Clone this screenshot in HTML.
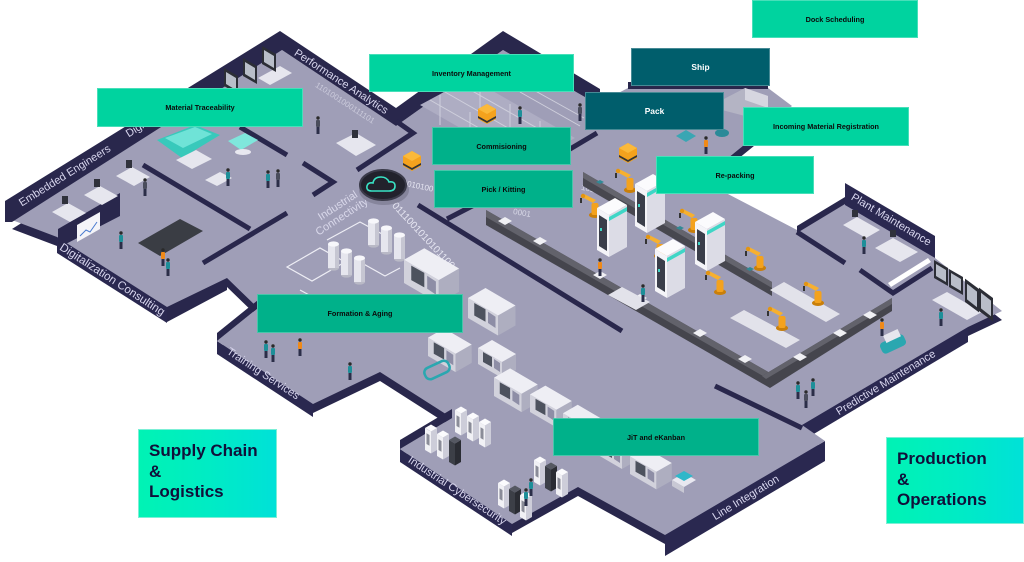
<!DOCTYPE html>
<html><head><meta charset="utf-8">
<style>
html,body{margin:0;padding:0;background:#fff;}
#wrap{position:relative;width:1024px;height:562px;overflow:hidden;background:#fff;}
svg{position:absolute;left:0;top:0;}
.b{position:absolute;display:flex;align-items:center;justify-content:center;font-family:"Liberation Sans",Arial,sans-serif;font-weight:bold;color:#0b0b0b;font-size:7.25px;box-shadow:inset 0 0 0 1px rgba(255,255,255,0.28);white-space:nowrap;}
.br{background:#00d39f;}
.md{background:#00b18a;}
.dk{background:#005e6c;color:#fff;font-size:8.4px;}
.big{position:absolute;box-sizing:border-box;background:linear-gradient(90deg,#00f3b4 0%,#00ecc4 50%,#00e1d8 100%);box-shadow:inset 0 0 0 1px #7cefd6;font-family:"Liberation Sans",Arial,sans-serif;font-weight:bold;font-size:17px;color:#10103a;padding:12px 0 0 11px;line-height:20.5px;}
</style></head>
<body><div id="wrap">
<svg width="1024" height="562" viewBox="0 0 1024 562" xmlns="http://www.w3.org/2000/svg">
<defs>
 <g id="mach">
  <polygon points="0,0 24,14 24,-2 0,-16" fill="#d2d2dc"/>
  <polygon points="24,14 38,6 38,-10 24,-2" fill="#aeaec0"/>
  <polygon points="0,-16 24,-2 38,-10 14,-24" fill="#eeeef4"/>
  <polygon points="5,-2 14,3 14,-7 5,-12" fill="#4d525e"/>
  <polygon points="16,4 22,8 22,-1 16,-5" fill="#8e8ea6"/>
 </g>
 <g id="tank">
  <ellipse cx="5.5" cy="0" rx="5.5" ry="2.6" fill="#b9b9c6"/>
  <rect x="0" y="-24" width="11" height="24" fill="#e6e6ee"/>
  <rect x="7" y="-24" width="4" height="24" fill="#c6c6d2"/>
  <ellipse cx="5.5" cy="-24" rx="5.5" ry="2.6" fill="#f7f7fb"/>
 </g>
 <g id="rack">
  <polygon points="0,0 6,3.5 6,-18.5 0,-22" fill="#f1f1f5"/>
  <polygon points="6,3.5 12,0 12,-22 6,-18.5" fill="#cdcdd9"/>
  <polygon points="0,-22 6,-18.5 12,-22 6,-25.5" fill="#fbfbfd"/>
  <polygon points="1.5,-6 4.5,-4.3 4.5,-15 1.5,-16.7" fill="#8a8c98"/>
 </g>
 <g id="rackd">
  <polygon points="0,0 6,3.5 6,-18.5 0,-22" fill="#3c3f47"/>
  <polygon points="6,3.5 12,0 12,-22 6,-18.5" fill="#2a2c33"/>
  <polygon points="0,-22 6,-18.5 12,-22 6,-25.5" fill="#555862"/>
 </g>
 <g id="cab">
  <polygon points="0,0 12,7 12,-35 0,-42" fill="#f4f4f8"/>
  <polygon points="2,-4 10,1 10,-30 2,-35" fill="#3a3e4a"/>
  <polygon points="12,7 30,-3 30,-45 12,-35" fill="#dcdce6"/>
  <polygon points="0,-42 12,-35 30,-45 18,-52" fill="#fbfbfd"/>
  <polygon points="12,-33 30,-43 30,-39 12,-29" fill="#3fd6c6"/>
  <rect x="3" y="-22" width="2" height="3" fill="#3fd6c6"/>
 </g>
 <g id="robot">
  <ellipse cx="0" cy="0" rx="6" ry="3" fill="#c97f0a"/>
  <rect x="-3.5" y="-12" width="7" height="12" rx="2" fill="#f4a21d"/>
  <polygon points="-2,-12 -13,-18 -11,-21 1,-15" fill="#f7b02f"/>
  <circle cx="-12" cy="-19" r="2.2" fill="#e39512"/>
  <rect x="-15" y="-17" width="2" height="5" fill="#333"/>
 </g>
 <g id="agv">
  <polygon points="0,0 9,5 18,0 18,-10 9,-15 0,-10" fill="#f4a21d"/>
  <polygon points="0,-10 9,-5 18,-10 9,-15" fill="#fbb93a"/>
  <polygon points="0,-3 9,2 18,-3 18,-1 9,4 0,-1" fill="#333"/>
 </g>
 <g id="pt">
  <rect x="-1.5" y="-3" width="3" height="7" fill="#2b2e48"/>
  <rect x="-2" y="-10" width="4" height="7" rx="1" fill="#1e8f99"/>
  <circle cx="0" cy="-12" r="1.7" fill="#2a2a2a"/>
 </g>
 <g id="po">
  <rect x="-1.5" y="-3" width="3" height="7" fill="#2b2e48"/>
  <rect x="-2" y="-10" width="4" height="7" rx="1" fill="#f08a18"/>
  <circle cx="0" cy="-12" r="1.7" fill="#2a2a2a"/>
 </g>
 <g id="pd">
  <rect x="-1.5" y="-3" width="3" height="7" fill="#2b2e48"/>
  <rect x="-2" y="-10" width="4" height="7" rx="1" fill="#4a4d5c"/>
  <circle cx="0" cy="-12" r="1.7" fill="#2a2a2a"/>
 </g>
 <g id="mon">
  <polygon points="0,0 14,8 14,-10 0,-18" fill="#2c2e36"/>
  <polygon points="2,-2 12,4 12,-8 2,-14" fill="#b9bec9"/>
 </g>
</defs>

<!-- floor band (side faces) -->
<polygon points="12,229 282,59 396,135 503,59 597,113 628,97 768,97 792,115 701,189 797,239 845,212 935,267 1002,320 968,336 802,434 825,450 665,544 578,496 512,533 400,458 452,427 380,381 313,413 217,350 258,317 227,287 167,316 57,246" fill="#29274c"/>
<!-- front label walls -->
<polygon points="57,237 167,307 167,323 57,253" fill="#2a2850"/>
<polygon points="167,307 227,278 227,290 167,322" fill="#29274c"/>
<polygon points="217,341 313,404 313,417 217,354" fill="#2a2850"/>
<polygon points="400,449 512,524 512,536 400,462" fill="#2a2850"/>
<polygon points="665,535 825,441 825,461 665,556" fill="#2a2850"/>
<polygon points="802,425 968,327 968,342 802,441" fill="#2a2850"/>
<!-- floor -->
<polygon points="12,220 282,50 396,126 503,50 597,104 628,88 768,88 792,106 701,180 797,230 845,203 935,258 1002,311 968,327 802,425 825,441 665,535 578,487 512,524 400,449 452,418 380,372 313,404 217,341 258,308 227,278 167,307 57,237" fill="#9f9eb7"/>

<!-- back walls -->
<polygon points="5,201 280,31 396,108 503,31 600,89 600,104 597,104 503,50 396,126 282,50 12,222 5,222" fill="#29274c"/>
<polygon points="217,333 258,300 258,308 217,341" fill="#29274c"/>
<polygon points="400,440 452,409 452,418 400,449" fill="#29274c"/>
<polygon points="845,183 935,236 935,258 845,205" fill="#2a2850"/>
<polygon points="797,226 845,197 845,204 797,233" fill="#29274c"/>
<polygon points="628,82 768,82 768,89 628,89" fill="#29274c"/>

<!-- storage rack area -->
<polygon points="420,105 470,78 575,138 525,165" fill="#aeadc3"/>
<g stroke="#cfcfdc" stroke-width="1" fill="none">
 <path d="M430,100 L535,160 M445,92 L550,152 M460,84 L565,144 M440,95 V125 M470,112 V140 M500,129 V157 M480,87 V110 M510,104 V130 M540,121 V146 M520,92 L580,126 M530,88 L584,118"/>
</g>

<!-- interior walls -->
<g stroke="#29274c" stroke-width="5" fill="none" stroke-linecap="butt">
 <path d="M143,165 L250,229"/>
 <path d="M287,213 L203,263"/>
 <path d="M240,127 L287,155"/>
 <path d="M303,163 L333,182 L313,195"/>
 <path d="M396,121 L413,133 L357,170"/>
 <path d="M418,205 L622,331"/>
 <path d="M447,219 L478,203"/>
 <path d="M565,152 L597,133"/>
 <path d="M715,386 L802,428"/>
 <path d="M797,232 L845,263"/>
 <path d="M860,270 L893,293 L932,268"/>
</g>
<polygon points="888,283 928,258 931,262 891,287" fill="#fff"/>
<!-- partition with whiteboard -->
<polygon points="58,229 120,193 120,216 58,248" fill="#29274c"/>
<polygon points="77,225 100,212 100,229 77,242" fill="#f4f4f8"/>
<path d="M80,236 L86,230 L90,232 L97,222" stroke="#4a7bd0" stroke-width="1" fill="none"/>

<!-- floor markings -->
<g stroke="#eeeef5" stroke-width="1.2" fill="none">
 <path d="M287,267 L320,248 L345,262 L312,281 Z"/>
 <path d="M327,240 L360,222 L384,235"/>
 <path d="M360,262 L385,276 L400,268"/>
 <path d="M300,290 L322,302"/>
</g>

<!-- binary / floor text -->
<g font-family="Liberation Sans, Arial, sans-serif" fill="#e6e6f2">
 <text x="0" y="0" font-size="10" transform="translate(423,236) rotate(47)" text-anchor="middle" dominant-baseline="central">0111001010101100</text>
 <text x="0" y="0" font-size="8" transform="translate(418,186) rotate(12)" text-anchor="middle" dominant-baseline="central">0010100</text>
 <text x="0" y="0" font-size="8" opacity="0.6" transform="translate(345,103) rotate(33)" text-anchor="middle" dominant-baseline="central">1101001000111101</text>
 <text x="0" y="0" font-size="8" opacity="0.8" transform="translate(590,189) rotate(12)" text-anchor="middle" dominant-baseline="central">1010</text>
 <text x="0" y="0" font-size="8" opacity="0.8" transform="translate(522,213) rotate(10)" text-anchor="middle" dominant-baseline="central">0001</text>
 <text x="0" y="0" font-size="11" fill="#d9d8ea" transform="translate(338,206) rotate(-33)" text-anchor="middle" dominant-baseline="central">Industrial</text>
 <text x="0" y="0" font-size="11" fill="#d9d8ea" transform="translate(342,217) rotate(-33)" text-anchor="middle" dominant-baseline="central">Connectivity</text>
</g>

<!-- cloud hub -->
<ellipse cx="384" cy="190" rx="25" ry="15" fill="#86859c"/>
<ellipse cx="383" cy="185" rx="23" ry="15" fill="#22222c" stroke="#3b3b4a" stroke-width="2"/>
<path d="M372,191 q-6,0 -5,-5 q1,-4 6,-3 q1,-6 8,-6 q6,0 8,5 q6,-1 6,4 q0,5 -6,5 Z" stroke="#39e3c5" stroke-width="1.6" fill="none"/>

<!-- material traceability models -->
<polygon points="157,140 195,125 220,135 182,158" fill="#38c9bb"/>
<polygon points="165,138 195,127 212,134 183,148" fill="#6fe3d7"/>
<polygon points="228,141 245,133 258,140 241,150" fill="#7fe6dc"/>
<ellipse cx="243" cy="152" rx="8" ry="3" fill="#e8e8f0"/>

<!-- desks -->
<g fill="#e6e6ee">
 <polygon points="52,212 68,203 86,213 70,222"/>
 <polygon points="84,195 100,186 118,196 102,205"/>
 <polygon points="116,176 132,167 150,177 134,186"/>
 <polygon points="336,143 356,133 376,145 356,156"/>
 <polygon points="176,160 196,150 212,159 192,169"/>
 <polygon points="205,180 220,172 232,178 217,186"/>
 <polygon points="843,225 857,217 880,230 866,238"/>
 <polygon points="875,248 893,238 918,252 900,262"/>
 <polygon points="932,300 947,292 982,312 967,320"/>
 <polygon points="258,78 280,66 292,73 270,85"/>
</g>
<g fill="#2f313b">
 <rect x="62" y="196" width="6" height="8"/>
 <rect x="94" y="179" width="6" height="8"/>
 <rect x="126" y="160" width="6" height="8"/>
 <rect x="352" y="130" width="6" height="8"/>
 <rect x="852" y="210" width="6" height="7"/>
 <rect x="890" y="230" width="6" height="7"/>
</g>
<!-- monitors -->
<use href="#mon" transform="translate(224,86)"/>
<use href="#mon" transform="translate(243,76)"/>
<use href="#mon" transform="translate(262,64)"/>
<use href="#mon" transform="translate(934,278)"/>
<use href="#mon" transform="translate(949,287)"/>
<use href="#mon" transform="translate(965,302) scale(1,1.3)"/>
<use href="#mon" transform="translate(979,311) scale(1,1.3)"/>

<!-- meeting table -->
<polygon points="138,243 180,219 203,231 160,256" fill="#3a3d44"/>

<!-- conveyors -->
<polygon points="583,172 772,282 772,296 583,186" fill="#47474f"/>
<polygon points="583,172 772,282 772,288 583,178" fill="#64646d"/>
<polygon points="486,210 770,373 770,388 486,225" fill="#45454d"/>
<polygon points="486,210 770,373 770,380 486,217" fill="#62626b"/>
<polygon points="762,376 892,298 892,311 770,388" fill="#45454d"/>
<polygon points="762,376 892,298 892,304 766,379" fill="#62626b"/>
<g fill="#f0f0f4">
 <polygon points="498,221 505,217 512,221 505,225"/>
 <polygon points="533,241 540,237 547,241 540,245"/>
 <polygon points="593,275 600,271 607,275 600,279"/>
 <polygon points="633,298 640,294 647,298 640,302"/>
 <polygon points="693,333 700,329 707,333 700,337"/>
 <polygon points="738,359 745,355 752,359 745,363"/>
 <polygon points="793,357 800,353 807,357 800,361"/>
 <polygon points="833,333 840,329 847,333 840,337"/>
 <polygon points="863,315 870,311 877,315 870,319"/>
</g>
<g fill="#2f8a96">
 <polygon points="596,182 600,180 604,182 600,184"/>
 <polygon points="636,205 640,203 644,205 640,207"/>
 <polygon points="676,228 680,226 684,228 680,230"/>
 <polygon points="716,251 720,249 724,251 720,253"/>
 <polygon points="746,269 750,267 754,269 750,271"/>
</g>
<!-- white tables -->
<g fill="#e2e2ea">
 <polygon points="608,295 622,287 650,302 636,310"/>
 <polygon points="730,318 744,310 800,340 786,348"/>
 <polygon points="770,290 784,282 840,314 826,322"/>
</g>

<!-- tanks -->
<use href="#tank" transform="translate(368,245)"/>
<use href="#tank" transform="translate(381,252)"/>
<use href="#tank" transform="translate(394,259)"/>
<use href="#tank" transform="translate(328,268)"/>
<use href="#tank" transform="translate(341,275)"/>
<use href="#tank" transform="translate(354,282)"/>

<!-- machines line -->
<use href="#mach" transform="translate(404,283) scale(1.45)"/>
<use href="#mach" transform="translate(468,318) scale(1.25)"/>
<use href="#mach" transform="translate(428,356) scale(1.15)"/>
<use href="#mach" transform="translate(478,364)"/>
<use href="#mach" transform="translate(494,396) scale(1.15)"/>
<use href="#mach" transform="translate(530,412) scale(1.1)"/>
<use href="#mach" transform="translate(563,430) scale(1.05)"/>
<use href="#mach" transform="translate(598,455)"/>
<use href="#mach" transform="translate(630,474) scale(1.1)"/>
<polygon points="672,480 684,473 696,480 684,487" fill="#e8e8f0"/>
<polygon points="672,480 684,487 684,493 672,486" fill="#c8c8d4"/>
<polygon points="675,476 684,471 693,476 684,481" fill="#2fb7c9"/>
<!-- AGV teal -->
<rect x="424" y="364" width="26" height="12" rx="5" fill="none" stroke="#2aa7b0" stroke-width="2.5" transform="rotate(-25 437 370)"/>
<rect x="880" y="338" width="26" height="12" rx="4" fill="#2aa7b0" transform="rotate(-25 893 344)"/>
<rect x="884" y="332" width="16" height="8" fill="#e6e6ee" transform="rotate(-25 892 336)"/>

<!-- racks -->
<use href="#rack" transform="translate(455,432)"/>
<use href="#rack" transform="translate(467,438)"/>
<use href="#rack" transform="translate(479,444)"/>
<use href="#rack" transform="translate(425,450)"/>
<use href="#rack" transform="translate(437,456)"/>
<use href="#rackd" transform="translate(449,462)"/>
<use href="#rack" transform="translate(534,482)"/>
<use href="#rackd" transform="translate(545,488)"/>
<use href="#rack" transform="translate(556,494)"/>
<use href="#rack" transform="translate(498,505)"/>
<use href="#rackd" transform="translate(509,511)"/>
<use href="#rack" transform="translate(520,517)"/>

<!-- robot cells -->
<use href="#robot" transform="translate(595,215)"/>
<use href="#robot" transform="translate(630,190)"/>
<use href="#cab" transform="translate(597,250)"/>
<use href="#cab" transform="translate(635,226)"/>
<use href="#robot" transform="translate(660,256)"/>
<use href="#robot" transform="translate(694,230)"/>
<use href="#cab" transform="translate(655,291)"/>
<use href="#cab" transform="translate(695,264)"/>
<use href="#robot" transform="translate(720,292)"/>
<use href="#robot" transform="translate(760,268)"/>
<use href="#robot" transform="translate(782,328)"/>
<use href="#robot" transform="translate(818,303)"/>

<!-- AGVs -->
<use href="#agv" transform="translate(403,166)"/>
<use href="#agv" transform="translate(478,119)"/>
<use href="#agv" transform="translate(619,158)"/>
<ellipse cx="722" cy="133" rx="7" ry="4" fill="#2a8a98"/>
<polygon points="676,136 686,130 696,136 686,142" fill="#3aa6b3"/>
<!-- truck -->
<polygon points="722,100 745,88 768,96 768,108 745,116 722,110" fill="#b4b4c4"/>
<polygon points="745,88 768,96 768,108 745,100" fill="#d6d6e0"/>

<!-- people -->
<use href="#pd" transform="translate(318,130)"/>
<use href="#pt" transform="translate(228,182)"/>
<use href="#pt" transform="translate(268,184)"/>
<use href="#pd" transform="translate(278,183)"/>
<use href="#pd" transform="translate(145,192)"/>
<use href="#pt" transform="translate(121,245)"/>
<use href="#pt" transform="translate(168,272)"/>
<use href="#po" transform="translate(163,262)"/>
<use href="#pt" transform="translate(350,376)"/>
<use href="#pt" transform="translate(266,354)"/>
<use href="#pt" transform="translate(273,358)"/>
<use href="#po" transform="translate(300,352)"/>
<use href="#po" transform="translate(600,272)"/>
<use href="#pt" transform="translate(643,298)"/>
<use href="#pt" transform="translate(798,395)"/>
<use href="#pt" transform="translate(813,392)"/>
<use href="#pd" transform="translate(806,404)"/>
<use href="#po" transform="translate(882,332)"/>
<use href="#pt" transform="translate(941,322)"/>
<use href="#pt" transform="translate(864,250)"/>
<use href="#po" transform="translate(706,150)"/>
<use href="#pt" transform="translate(526,502)"/>
<use href="#pt" transform="translate(531,492)"/>
<use href="#pd" transform="translate(580,117)"/>
<use href="#pt" transform="translate(520,120)"/>

<!-- wall labels -->
<g font-family="Liberation Sans, Arial, sans-serif" fill="#d8d6ee" text-anchor="middle" dominant-baseline="central">
 <text x="0" y="0" font-size="11" transform="translate(65,176) rotate(-32)">Embedded Engineers</text>
 <text x="0" y="0" font-size="11" text-anchor="start" transform="translate(127,135) rotate(-32)">Digital Twin</text>
 <text x="0" y="0" font-size="11" transform="translate(341,82) rotate(33)">Performance Analytics</text>
 <text x="0" y="0" font-size="11.5" transform="translate(112,280) rotate(33)">Digitalization Consulting</text>
 <text x="0" y="0" font-size="11" transform="translate(263,374) rotate(33.5)">Training Services</text>
 <text x="0" y="0" font-size="11" transform="translate(457,491) rotate(33.5)">Industrial Cybersecurity</text>
 <text x="0" y="0" font-size="11" transform="translate(746,498) rotate(-31.5)">Line Integration</text>
 <text x="0" y="0" font-size="11" transform="translate(886,383) rotate(-31.5)">Predictive Maintenance</text>
 <text x="0" y="0" font-size="11" transform="translate(891,220) rotate(31)">Plant Maintenance</text>
</g>
</svg>

<div class="b br" style="left:752px;top:0;width:166px;height:38px;">Dock Scheduling</div>
<div class="b dk" style="left:631px;top:48px;width:139px;height:38px;">Ship</div>
<div class="b dk" style="left:585px;top:92px;width:139px;height:38px;">Pack</div>
<div class="b br" style="left:743px;top:107px;width:166px;height:39px;">Incoming Material Registration</div>
<div class="b br" style="left:656px;top:156px;width:158px;height:38px;">Re-packing</div>
<div class="b br" style="left:369px;top:54px;width:205px;height:38px;">Inventory Management</div>
<div class="b br" style="left:97px;top:88px;width:206px;height:39px;">Material Traceability</div>
<div class="b md" style="left:432px;top:127px;width:139px;height:38px;">Commisioning</div>
<div class="b md" style="left:434px;top:170px;width:139px;height:38px;">Pick / Kitting</div>
<div class="b md" style="left:257px;top:294px;width:206px;height:39px;">Formation &amp; Aging</div>
<div class="b md" style="left:553px;top:418px;width:206px;height:38px;">JiT and eKanban</div>
<div class="big" style="left:138px;top:429px;width:139px;height:89px;">Supply Chain<br>&amp;<br>Logistics</div>
<div class="big" style="left:886px;top:437px;width:138px;height:87px;">Production<br>&amp;<br>Operations</div>
</div></body></html>
